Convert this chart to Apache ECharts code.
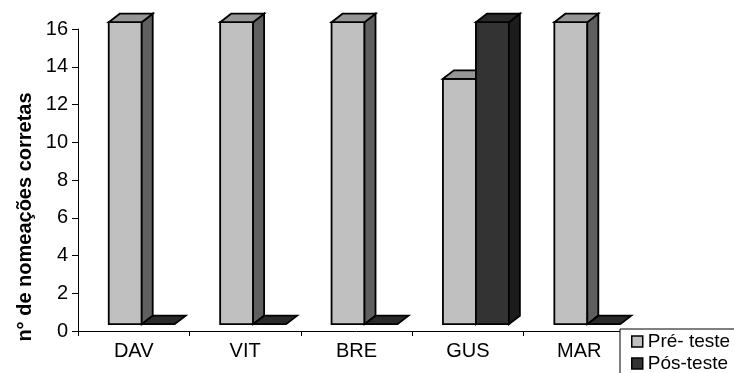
<!DOCTYPE html>
<html>
<head>
<meta charset="utf-8">
<style>
  html, body { margin: 0; padding: 0; background: #fff; }
  #chart { width: 734px; height: 373px; }
</style>
<script src="https://cdn.jsdelivr.net/npm/echarts@6/dist/echarts.min.js"></script>
</head>
<body>
<div id="chart"></div>
<script>
// Participants and number of correct namings per test
const categories = ['DAV', 'VIT', 'BRE', 'GUS', 'MAR'];
const preTest = [16, 16, 16, 13, 16];
const postTest = [0, 0, 0, 16, 0];
const seriesNames = ['Pré- teste', 'Pós-teste'];
const yTitle = 'n° de nomeações corretas';

const FONT = '"Liberation Sans", Arial, sans-serif';

// Face shades for the pseudo-3D columns
const palettes = [
  { front: '#c0c0c0', top: '#969696', side: '#5f5f5f' },
  { front: '#333333', top: '#2a2a2a', side: '#1c1c1c' }
];

// Column draws: front rectangle, top and side parallelograms
function makeRenderer(slot) {
  const pal = palettes[slot];
  return function (params, api) {
    const idx = api.value(0);
    const v = api.value(1);
    const base = api.coord([idx, 0]);
    const top = api.coord([idx, v]);
    const band = api.size([1, 0])[0];
    const left = base[0] - band / 2;
    const w = band * 0.296;
    const x0 = left + band * 0.276 + slot * w;
    const lift = 6.8, dx = 11, dy = 8.5;
    const yb = base[1] - lift;
    const yt = top[1] - lift;
    const stroke = { stroke: '#000', lineWidth: 1.8, lineJoin: 'miter' };
    const topFace = {
      type: 'polygon',
      shape: { points: [[x0, yt], [x0 + dx, yt - dy], [x0 + w + dx, yt - dy], [x0 + w, yt]] },
      style: Object.assign({ fill: pal.top }, stroke)
    };
    if (v === 0) {
      return { type: 'group', children: [topFace] };
    }
    return {
      type: 'group',
      children: [
        {
          type: 'rect',
          shape: { x: x0, y: yt, width: w, height: yb - yt },
          style: Object.assign({ fill: pal.front }, stroke)
        },
        {
          type: 'polygon',
          shape: { points: [[x0 + w, yt], [x0 + w + dx, yt - dy], [x0 + w + dx, yb - dy], [x0 + w, yb]] },
          style: Object.assign({ fill: pal.side }, stroke)
        },
        topFace
      ]
    };
  };
}

const chart = echarts.init(document.getElementById('chart'), null, { renderer: 'canvas' });

chart.setOption({
  animation: false,
  backgroundColor: '#fff',
  grid: { left: 78, right: 99, top: 29, bottom: 42, containLabel: false },
  xAxis: {
    type: 'category',
    data: categories,
    boundaryGap: true,
    axisLine: { show: true, lineStyle: { color: '#000', width: 1 } },
    axisTick: { show: true, length: 5, interval: 0, alignWithLabel: false, lineStyle: { color: '#000' } },
    axisLabel: { color: '#000', fontSize: 20, fontFamily: FONT, margin: 10, interval: 0 },
    splitLine: { show: false }
  },
  yAxis: {
    type: 'value',
    min: 0,
    max: 16,
    interval: 2,
    axisLine: { show: true, lineStyle: { color: '#000', width: 1 } },
    axisTick: { show: true, length: 6, lineStyle: { color: '#000' } },
    axisLabel: { color: '#000', fontSize: 20, fontFamily: FONT, margin: 10 },
    splitLine: { show: false }
  },
  legend: {
    orient: 'vertical',
    left: 620,
    top: 329,
    height: 60,
    padding: [3, 20, 6, 11],
    itemGap: 3,
    itemWidth: 11,
    itemHeight: 11,
    backgroundColor: '#fff',
    borderColor: '#000',
    borderWidth: 1,
    borderRadius: 0,
    z: 10,
    textStyle: { color: '#000', fontSize: 19, fontFamily: FONT, lineHeight: 19 },
    data: [
      { name: seriesNames[0], icon: 'rect', itemStyle: { color: palettes[0].front, borderColor: '#000', borderWidth: 1.5 } },
      { name: seriesNames[1], icon: 'rect', itemStyle: { color: palettes[1].front, borderColor: '#000', borderWidth: 1.5 } }
    ]
  },
  graphic: [
    {
      type: 'text',
      x: 25,
      y: 217,
      rotation: Math.PI / 2,
      style: {
        text: yTitle,
        font: 'bold 20px ' + FONT,
        fill: '#000',
        align: 'center',
        verticalAlign: 'middle'
      }
    }
  ],
  series: [
    {
      name: seriesNames[0],
      type: 'custom',
      renderItem: makeRenderer(0),
      itemStyle: { color: palettes[0].front },
      encode: { x: 0, y: 1 },
      clip: false,
      data: categories.map((c, i) => [i, preTest[i]])
    },
    {
      name: seriesNames[1],
      type: 'custom',
      renderItem: makeRenderer(1),
      itemStyle: { color: palettes[1].front },
      encode: { x: 0, y: 1 },
      clip: false,
      data: categories.map((c, i) => [i, postTest[i]])
    }
  ]
});
</script>
</body>
</html>
